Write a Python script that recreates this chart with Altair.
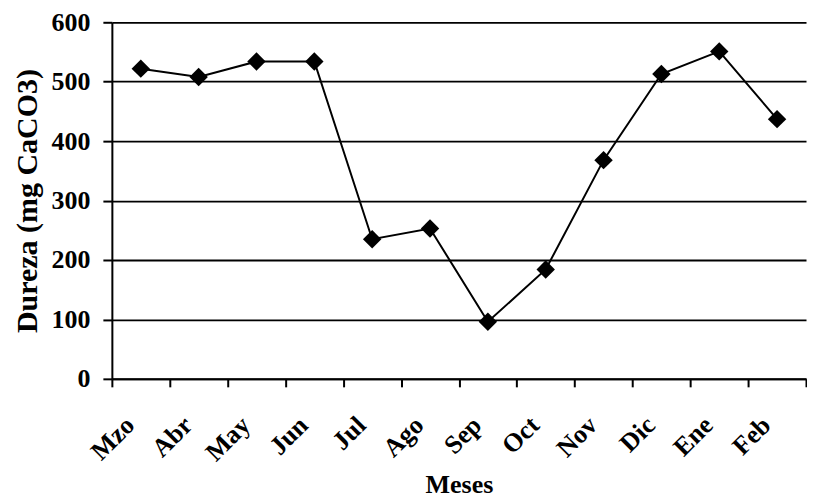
import altair as alt
import pandas as pd

months = ["Mzo", "Abr", "May", "Jun", "Jul", "Ago", "Sep", "Oct", "Nov", "Dic", "Ene", "Feb"]
dureza = [522, 508, 534, 534, 235, 253, 96, 184, 368, 513, 551, 437]
y_ticks = [0, 100, 200, 300, 400, 500, 600]

df = pd.DataFrame({"Mes": months, "Dureza": dureza})

FONT = "Liberation Serif"

x_enc = alt.X(
    "Mes:N",
    sort=months,
    bandPosition=0.5,
    scale=alt.Scale(type="band", paddingInner=0, paddingOuter=0),
    axis=alt.Axis(
        title="Meses",
        labelAngle=-45,
        labelAlign="right",
        labelBaseline="middle",
        labelOffset=-11,
        labelPadding=34,
        tickBand="extent",
        tickSize=8,
        grid=False,
        titlePadding=6,
    ),
)
y_enc = alt.Y(
    "Dureza:Q",
    scale=alt.Scale(domain=[0, 600], nice=False),
    axis=alt.Axis(
        title="Dureza (mg CaCO3)",
        titleFontSize=30,
        values=y_ticks,
        tickSize=9,
        labelPadding=13,
        grid=True,
        gridColor="black",
        gridWidth=1.8,
        titlePadding=8,
    ),
)

base = alt.Chart(df).encode(x=x_enc, y=y_enc)
line = base.mark_line(color="black", strokeWidth=2)
pts = base.mark_point(shape="diamond", filled=True, color="black", size=340, opacity=1)

chart = (
    alt.layer(line, pts)
    .properties(width=695, height=357, padding={"left": 5, "top": 1, "right": 0, "bottom": 0},
                background="white")
    .configure_view(stroke=None)
    .configure_axis(
        domainColor="black",
        domainWidth=2,
        tickColor="black",
        tickWidth=2,
        labelFont=FONT,
        labelFontWeight="bold",
        labelFontSize=26,
        labelColor="black",
        titleFont=FONT,
        titleFontWeight="bold",
        titleFontSize=26,
        titleColor="black",
    )
)

chart.save("out.html", embed_options={"renderer": "svg", "actions": False})
